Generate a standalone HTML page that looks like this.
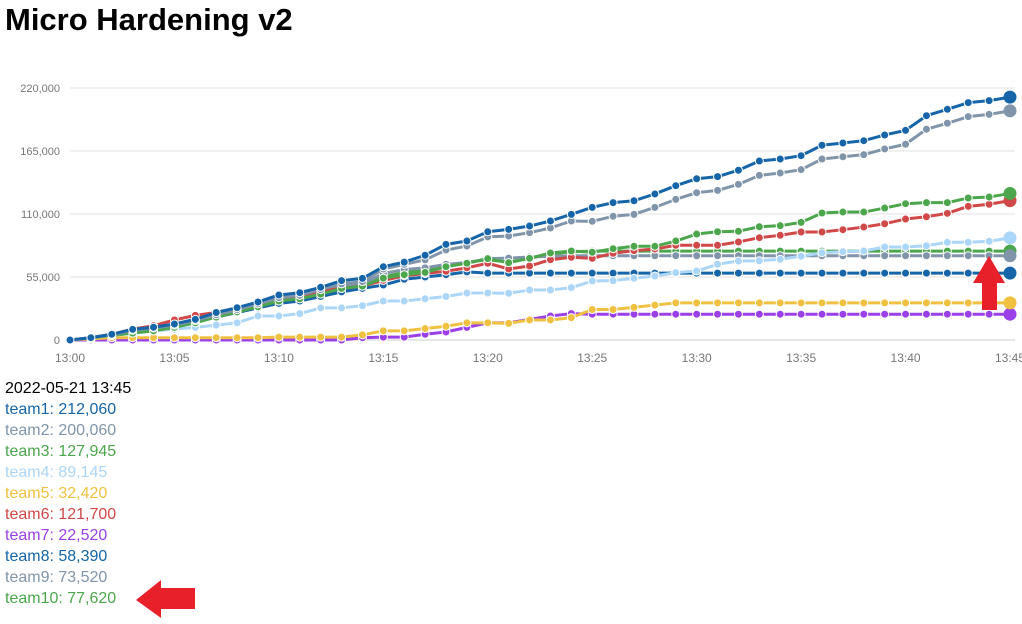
<!DOCTYPE html>
<html><head><meta charset="utf-8"><style>
body{margin:0;width:1022px;height:624px;background:#fff;overflow:hidden;font-family:"Liberation Sans",sans-serif}
h1{position:absolute;left:5px;top:2px;margin:0;font-size:31px;font-weight:bold;color:#000}
#legend{position:absolute;left:5px;top:378px;font-size:16px;line-height:21px}
svg{position:absolute;left:0;top:0}
</style></head><body>
<h1>Micro Hardening v2</h1>
<svg id="chart" width="1022" height="624"></svg>
<div id="legend"></div>
<script>
const ticksY=[0,55000,110000,165000,220000];
const tickLabelsY=["0","55,000","110,000","165,000","220,000"];
const tickMinutes=[0,5,10,15,20,25,30,35,40,45];
const tickLabelsX=["13:00","13:05","13:10","13:15","13:20","13:25","13:30","13:35","13:40","13:45"];
const teams=["team1","team2","team3","team4","team5","team6","team7","team8","team9","team10"];
const colors=["#1565a8","#8095aa","#4ca64c","#acd6f7","#f0c040","#d04848","#9b40e6","#1565a8","#8095aa","#4ca64c"];
const team1=[0,2000,5000,9300,11100,14000,18000,24000,28200,33200,39300,41300,46000,51800,53800,64000,68000,74000,83500,86400,94500,96600,99500,103900,109700,115800,119900,121600,127500,134700,140800,142600,148200,156300,158000,160900,170000,172000,174000,179000,183000,195800,201400,207200,209000,212060];
const team2=[0,2000,4500,8500,10500,13000,17000,22000,26500,31500,37000,39000,44000,49000,51000,62000,66000,70000,78500,82000,90000,90800,93700,97800,103900,103600,108000,109700,115800,122800,128600,130600,135900,143700,145800,148700,158000,160000,161800,166800,170900,184000,189200,195000,197000,200060];
const team3=[0,2000,4000,6000,8000,11000,15000,20000,24500,29000,34000,36000,40000,45000,47000,54000,57000,59000,64000,67000,71000,67500,71300,76000,77700,76600,79700,81800,81800,86400,92500,94500,94900,98900,99800,102700,110900,111700,111700,115200,119000,119900,119900,124000,124800,127945];
const team4=[0,2000,4000,6000,8000,9500,11000,13000,15000,21000,21000,23000,28000,28000,30000,34000,34000,36000,38000,41000,41000,40800,43600,43600,45700,51500,51800,53900,55900,58800,60200,66100,69000,69200,70500,73100,76200,77100,77700,81200,81200,82300,85300,85300,86200,89145];
const team5=[0,1000,2000,2000,2000,2000,2000,2000,2000,2000,2500,2500,2500,2500,4500,8000,8000,10000,12000,15000,15000,14500,17500,17500,19500,26600,26600,28500,30500,32420,32420,32420,32420,32420,32420,32420,32420,32420,32420,32420,32420,32420,32420,32420,32420,32420];
const team6=[0,2000,5000,9500,12500,17500,21500,24000,28000,32000,37000,38500,43000,45000,47000,52000,56000,58000,60000,63000,67000,62000,64600,70100,72200,71300,75700,78000,79400,82700,82700,82700,85600,89300,91400,94300,94300,96300,98600,101500,105600,107600,110600,116700,118500,121700];
const team7=[0,0,0,0,0,0,0,0,0,0,0,0,0,0,2000,2500,2500,5000,7000,11000,15000,15000,18000,21000,23000,22520,22520,22520,22520,22520,22520,22520,22520,22520,22520,22520,22520,22520,22520,22520,22520,22520,22520,22520,22520,22520];
const team8=[0,2000,5000,8500,10500,13500,16500,20000,24000,28000,32000,34000,38000,42000,45000,48000,53000,55000,57000,59500,58390,58390,58390,58390,58390,58390,58390,58390,58390,58390,58390,58390,58390,58390,58390,58390,58390,58390,58390,58390,58390,58390,58390,58390,58390,58390];
const team9=[0,2000,4500,8000,10500,14000,18000,22000,26000,30500,35500,37500,42000,47000,49000,58000,61500,63000,66000,67500,71000,71500,72500,73000,73520,73520,73520,73520,73520,73520,73520,73520,73520,73520,73520,73520,73520,73520,73520,73520,73520,73520,73520,73520,73520,73520];
const team10=[0,2000,4000,6500,9000,12000,16000,20500,25000,30000,35000,37000,41000,45000,47500,55000,59000,61000,65000,68000,70000,68000,71300,75000,77000,77620,77620,77620,77620,77620,77620,77620,77620,77620,77620,77620,77620,77620,77620,77620,77620,77620,77620,77620,77620,77620];
const series=[team1,team2,team3,team4,team5,team6,team7,team8,team9,team10];
const finals=["212,060","200,060","127,945","89,145","32,420","121,700","22,520","58,390","73,520","77,620"];

const NS="http://www.w3.org/2000/svg";
const svg=document.getElementById('chart');
const X0=70,X1=1010,Y0=340,Y1=88;
const xs=m=>X0+(X1-X0)*m/45;
const ys=v=>Y0-(Y0-Y1)*v/220000;
function mk(tag,attrs,parent){const e=document.createElementNS(NS,tag);for(const k in attrs)e.setAttribute(k,attrs[k]);(parent||svg).appendChild(e);return e;}
ticksY.forEach((t,i)=>{
  const g=mk('line',{x1:X0,x2:1015,y1:ys(t),y2:ys(t),stroke:i===0?'#ccc':'#e2e2e2','stroke-width':1});
  
  
  const tx=mk('text',{x:60,y:ys(t)+4,'text-anchor':'end','font-size':11,fill:'#777','font-family':'Liberation Sans, sans-serif'});
  tx.textContent=tickLabelsY[i];
  
  
});
tickMinutes.forEach((m,i)=>{
  const tx=mk('text',{x:xs(m),y:362,'text-anchor':'middle','font-size':12,fill:'#777','font-family':'Liberation Sans, sans-serif'});
  tx.textContent=tickLabelsX[i];
  
  
});
for(let si=series.length-1;si>=0;si--){
  const s=series[si];
  const g=mk('g',{});
  
  
  const pts=s.map((v,i)=>xs(i)+','+ys(v)).join(' ');
  const pl=mk('polyline',{points:pts,fill:'none',stroke:colors[si],'stroke-width':3,'stroke-linejoin':'round'},g);
  
  
  s.forEach((v,i)=>{
    const last=i===s.length-1;
    const c=mk('circle',{cx:xs(i),cy:ys(v),r:last?6.5:4,fill:colors[si],stroke:'#fff','stroke-width':last?0:1},g);
    
    
  });
}
const a1=mk('polygon',{points:'989,256 1005,283 997,283 997,310 982,310 982,283 973,283',fill:'#e8202a'});


const a2=mk('polygon',{points:'136,600 161,580 161,588 195,588 195,609 161,609 161,618',fill:'#e8202a'});



const lg=document.getElementById('legend');
const d=document.createElement('div');d.textContent='2022-05-21 13:45';


lg.appendChild(d);
teams.forEach((t,i)=>{
  const e=document.createElement('div');
  e.style.color=colors[i];
  e.textContent=t+': '+finals[i];
  
  
  lg.appendChild(e);
});
</script>
</body></html>
